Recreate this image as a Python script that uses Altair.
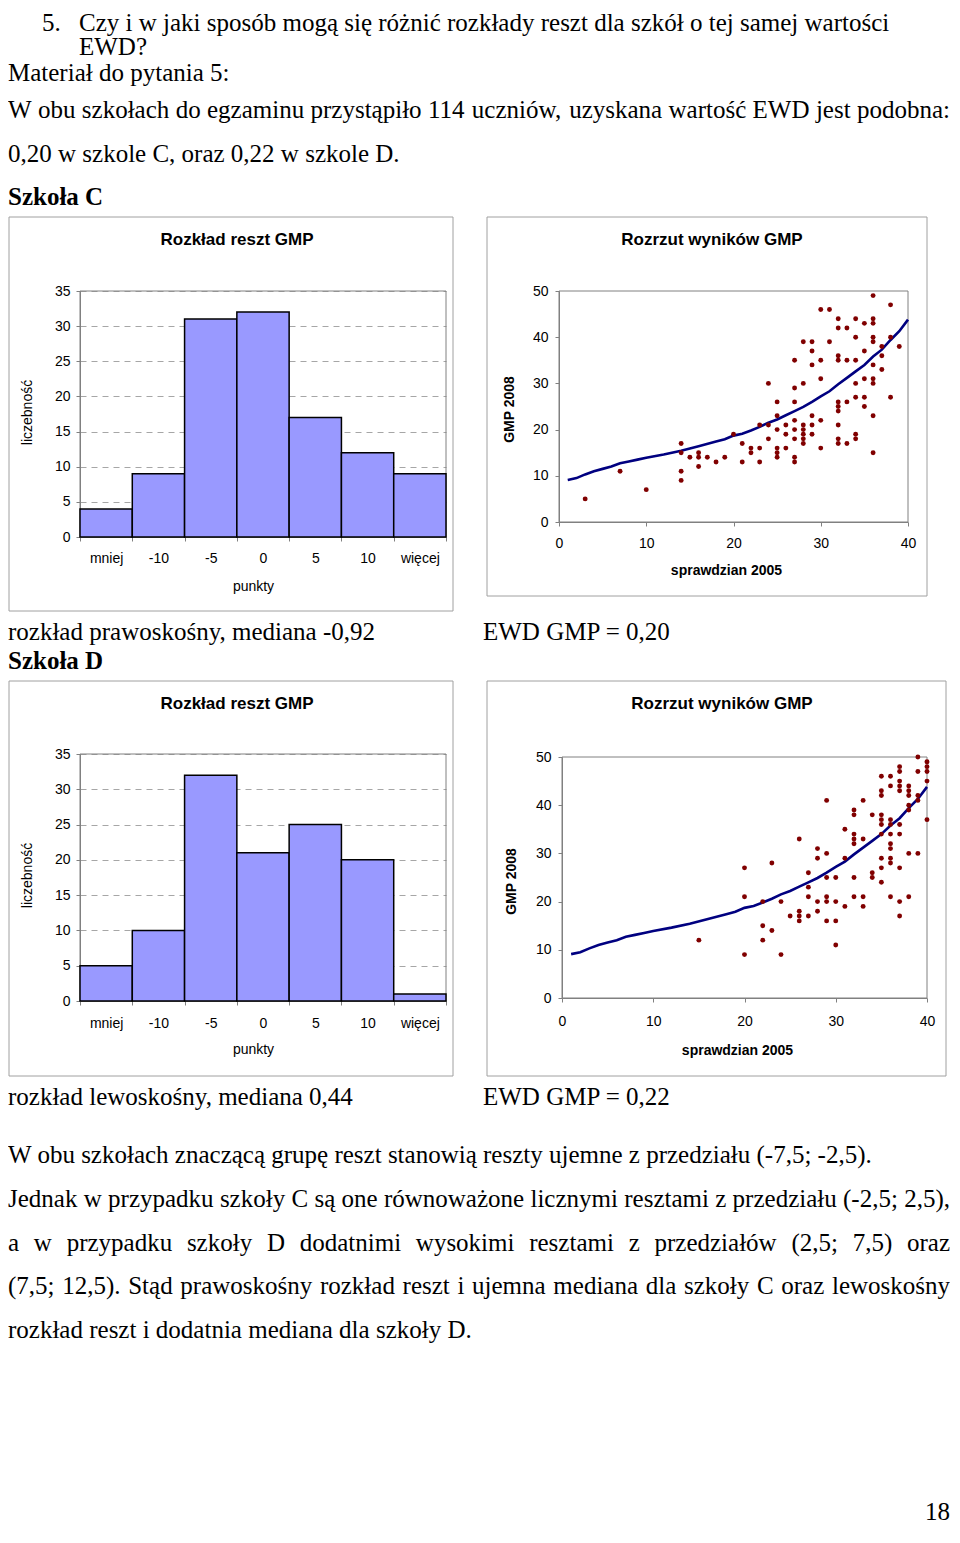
import altair as alt
import pandas as pd

# ============================ DATA ============================
hist_categories = ["mniej", "-10", "-5", "0", "5", "10", "więcej"]
counts_school_C = [4, 9, 31, 32, 17, 12, 9]
counts_school_D = [5, 10, 32, 21, 25, 20, 1]
hist_y_ticks = [0, 5, 10, 15, 20, 25, 30, 35]

sprawdzian_C = [3, 7, 10, 14, 14, 14, 14, 15, 16, 16, 16, 17, 18, 19, 20, 21, 21, 22, 22,
                23, 23, 23, 24, 24, 24, 25, 25, 25, 25, 25, 25, 26, 26, 26,
                27, 27, 27, 27, 27, 27, 27, 27, 28, 28, 28, 28, 28, 28, 28,
                29, 29, 29, 29, 29, 29, 30, 30, 30, 30, 30, 31, 31,
                32, 32, 32, 32, 32, 32, 32, 32, 32, 32, 33, 33, 33, 33,
                34, 34, 34, 34, 34, 34, 34, 35, 35, 35, 35, 35,
                36, 36, 36, 36, 36, 36, 36, 36, 36, 36, 37, 37, 37, 38, 38, 38, 39]
gmp_C = [5, 11, 7, 17, 15, 11, 9, 14, 15, 14, 12, 14, 13, 14, 19, 17, 13, 16, 15,
         21, 16, 13, 30, 21, 18, 26, 23, 20, 16, 15, 14, 21, 19, 16,
         35, 29, 26, 22, 20, 18, 14, 13, 39, 30, 21, 20, 19, 18, 17,
         39, 37, 34, 23, 21, 19, 46, 35, 31, 22, 16, 46, 39,
         44, 42, 36, 35, 26, 25, 24, 21, 18, 17, 42, 35, 26, 17,
         44, 40, 35, 30, 27, 19, 18, 43, 37, 31, 27, 25,
         49, 44, 43, 40, 39, 34, 31, 30, 23, 15, 38, 36, 33, 47, 40, 27, 38]

sprawdzian_D = [15, 20, 20, 20, 22, 22, 22, 23, 23, 24, 24, 25,
                26, 26, 26, 26, 27, 27, 27, 27, 28, 28, 28, 28,
                29, 29, 29, 29, 29, 29, 30, 30, 30, 30, 31, 31, 31,
                32, 32, 32, 32, 32, 32, 32, 33, 33, 33, 33, 34, 34, 34,
                35, 35, 35, 35, 35, 35, 35, 35, 35, 35,
                36, 36, 36, 36, 36, 36, 36, 36, 36, 36,
                37, 37, 37, 37, 37, 37, 37, 37, 37, 37,
                38, 38, 38, 38, 38, 38, 38, 39, 39, 39, 39, 39, 40, 40, 40, 40, 40]
gmp_D = [12, 27, 21, 9, 20, 15, 12, 28, 14, 20, 9, 17,
         33, 18, 17, 16, 26, 23, 21, 17, 31, 29, 20, 18,
         41, 30, 25, 21, 20, 16, 25, 20, 16, 11, 35, 29, 19,
         39, 38, 34, 33, 32, 25, 21, 41, 33, 21, 19, 38, 26, 25,
         46, 43, 42, 38, 37, 36, 34, 29, 27, 24,
         46, 44, 37, 36, 34, 32, 31, 29, 28, 21,
         48, 47, 45, 44, 43, 36, 34, 27, 20, 17,
         44, 43, 42, 40, 39, 30, 21, 50, 47, 42, 41, 30, 49, 48, 47, 45, 37]

curve_sprawdzian = [1, 2, 3, 4, 5, 6, 7, 8, 9, 10, 12, 14, 16, 18, 19, 20, 21, 22, 23, 24,
                    25, 26, 27, 28, 29, 30, 31, 32, 33, 34, 35, 36, 37, 38, 39, 40]
curve_gmp = [9.1, 9.5, 10.3, 11.0, 11.5, 12.0, 12.7, 13.1, 13.5, 13.9, 14.6, 15.4, 16.4, 17.4,
             17.9, 18.7, 19.1, 19.8, 20.6, 21.5, 22.2, 23.1, 24.0, 24.9, 26.0, 27.2, 28.3,
             29.8, 31.2, 32.6, 34.0, 35.8, 37.3, 39.4, 41.3, 43.8]
scatter_x_ticks = [0, 10, 20, 30, 40]
scatter_y_ticks = [0, 10, 20, 30, 40, 50]

question_number = "5."
question_lines = ["Czy i w jaki sposób mogą się różnić rozkłady reszt dla szkół o tej samej wartości",
                  "EWD?"]
material_heading = "Materiał do pytania 5:"
intro_lines = ["W obu szkołach do egzaminu przystąpiło 114 uczniów, uzyskana wartość EWD jest podobna:",
               "0,20 w szkole C, oraz 0,22 w szkole D."]
school_names = ["Szkoła C", "Szkoła D"]
distribution_notes = ["rozkład prawoskośny, mediana -0,92", "rozkład lewoskośny, mediana 0,44"]
ewd_notes = ["EWD GMP = 0,20", "EWD GMP = 0,22"]
conclusion_lines = [
    "W obu szkołach znaczącą grupę reszt stanowią reszty ujemne z przedziału (-7,5; -2,5).",
    "Jednak w przypadku szkoły C są one równoważone licznymi resztami z przedziału (-2,5; 2,5),",
    "a w przypadku szkoły D dodatnimi wysokimi resztami z przedziałów (2,5; 7,5) oraz",
    "(7,5; 12,5). Stąd prawoskośny rozkład reszt i ujemna mediana dla szkoły C oraz lewoskośny",
    "rozkład reszt i dodatnia mediana dla szkoły D.",
]
page_number = "18"
hist_title = "Rozkład reszt GMP"
scatter_title = "Rozrzut wyników GMP"
hist_x_title = "punkty"
hist_y_title = "liczebność"
scatter_x_title = "sprawdzian 2005"
scatter_y_title = "GMP 2008"

assert len(sprawdzian_C) == len(gmp_C)
assert len(sprawdzian_D) == len(gmp_D)

# ============================ LAYOUT ============================
SERIF, SANS = "Liberation Serif", "Liberation Sans"
BODY = 25
TEXT_L, TEXT_R = 8, 950
GRAY_AXIS = "#808080"
GRAY_BOX = "#a0a0a0"

# Times-compatible advance widths (per 1000 em) for justifying lines
TIMES = {' ': 250, ',': 250, '.': 250, ';': 278, ':': 278, '(': 333, ')': 333, '-': 333,
         '=': 564, '?': 444,
         'A': 722, 'B': 667, 'C': 667, 'D': 722, 'E': 611, 'F': 556, 'G': 722, 'H': 722,
         'I': 333, 'J': 389, 'K': 722, 'L': 611, 'M': 889, 'N': 722, 'O': 722, 'P': 556,
         'R': 667, 'S': 556, 'T': 611, 'U': 722, 'W': 944, 'Z': 611,
         'a': 444, 'b': 500, 'c': 444, 'd': 500, 'e': 444, 'f': 333, 'g': 500, 'h': 500,
         'i': 278, 'j': 278, 'k': 500, 'l': 278, 'm': 778, 'n': 500, 'o': 500, 'p': 500,
         'q': 500, 'r': 333, 's': 389, 't': 278, 'u': 500, 'v': 500, 'w': 722, 'x': 500,
         'y': 500, 'z': 444, 'ą': 444, 'ę': 444, 'ł': 278, 'ś': 389, 'ć': 444, 'ń': 500,
         'ó': 500, 'ż': 444, 'ź': 444}


def tw(s, size=BODY):
    return sum(TIMES.get(ch, 500) for ch in s) * size / 1000.0


ONE = pd.DataFrame({"k": [0]})

# plot areas (page px): cell origin, cell size, plot range inside the cell
HC = dict(ox=80, oy=291, w=366, h=246)
SC = dict(ox=559, oy=291, w=349, h=231)
HD = dict(ox=80, oy=754, w=366, h=247)
SD = dict(ox=559, oy=754, w=368, h=244, x0=3, y0=3)

MAXW = max(HC["w"], SC["w"], HD["w"], SD["w"])
MAXH = max(HC["h"], SC["h"], HD["h"], SD["h"])
COL_SP = (SC["ox"] - HC["ox"]) - MAXW
ROW_SP = (HD["oy"] - HC["oy"]) - MAXH


def T(s, px, py, cell, size=BODY, font=SERIF, weight="normal", align="left", baseline="middle"):
    return alt.Chart(ONE).mark_text(
        text=s, font=font, fontSize=size, fontWeight=weight, align=align,
        baseline=baseline, color="black"
    ).encode(x=alt.value(px - cell["ox"]), y=alt.value(py - cell["oy"]))


def justified(line, py, cell):
    words = line.split()
    widths = [tw(w) for w in words]
    gap = (TEXT_R - TEXT_L - sum(widths)) / (len(words) - 1)
    out, x = [], TEXT_L
    for i, (w, wd) in enumerate(zip(words, widths)):
        if i == len(words) - 1:
            out.append(T(w, TEXT_R, py, cell, align="right"))
        else:
            out.append(T(w, x, py, cell))
        x += wd + gap
    return out


def R(x1, y1, x2, y2, cell, color, width=1.0, opacity=1.0):
    return alt.Chart(ONE).mark_rect(fillOpacity=0, stroke=color, strokeWidth=width,
                                    strokeOpacity=opacity).encode(
        x=alt.value(x1 - cell["ox"]), x2=alt.value(x2 - cell["ox"]),
        y=alt.value(y1 - cell["oy"]), y2=alt.value(y2 - cell["oy"]))


def hist_panel(counts, cell, box, title_c, ytitle_c, xtitle_c, xpad):
    df = pd.DataFrame({"przedzial": hist_categories, "liczebnosc": counts})
    x_enc = alt.X("przedzial:N", sort=hist_categories,
                  scale=alt.Scale(paddingInner=0, paddingOuter=0),
                  axis=alt.Axis(title=hist_x_title, labelAngle=0, tickBand="extent",
                                labelPadding=xpad, titleFontWeight="normal",
                                titleX=xtitle_c[0] - cell["ox"],
                                titleY=xtitle_c[1] - (cell["oy"] + cell["h"]),
                                titleAlign="center", titleBaseline="middle"))
    y_enc = alt.Y("liczebnosc:Q", scale=alt.Scale(domain=[0, 35], nice=False),
                  axis=alt.Axis(values=hist_y_ticks, grid=True, gridDash=[6, 5],
                                gridColor="#a6a6a6", labelPadding=6, labelFlush=False,
                                title=hist_y_title, titleFontWeight="normal",
                                titleX=ytitle_c[0] - cell["ox"], titleY=ytitle_c[1] - cell["oy"],
                                titleAlign="center", titleBaseline="middle"))
    frame = R(cell["ox"], cell["oy"], cell["ox"] + cell["w"], cell["oy"] + cell["h"], cell, GRAY_AXIS)
    bars = alt.Chart(df).mark_bar(fill="#9999ff", stroke="black", strokeWidth=1.5, opacity=1).encode(
        x=x_enc, y=y_enc)
    outer = R(*box, cell, GRAY_BOX)
    title = T(hist_title, title_c[0], title_c[1], cell, size=17, font=SANS, weight="bold", align="center")
    return [frame, bars, outer, title]


def scatter_panel(xs, ys, cell, box, title_c, ytitle_c, xtitle_c, xpad):
    x0 = cell.get("x0", 0)
    y0 = cell.get("y0", 0)
    df = pd.DataFrame({"s2005": xs, "g2008": ys})
    cdf = pd.DataFrame({"s2005": curve_sprawdzian, "g2008": curve_gmp})
    x_enc = alt.X("s2005:Q", scale=alt.Scale(domain=[0, 40], nice=False, range=[x0, cell["w"]]),
                  axis=alt.Axis(values=scatter_x_ticks, grid=False, labelFlush=False,
                                labelPadding=xpad, title=scatter_x_title, titleFontWeight="bold",
                                titleX=xtitle_c[0] - cell["ox"],
                                titleY=xtitle_c[1] - (cell["oy"] + cell["h"]),
                                titleAlign="center", titleBaseline="middle"))
    y_axis_kw = dict(values=scatter_y_ticks, grid=False, labelFlush=False, labelPadding=7,
                     title=scatter_y_title, titleFontWeight="bold",
                     titleX=ytitle_c[0] - (cell["ox"] + x0), titleY=ytitle_c[1] - cell["oy"],
                     titleAlign="center", titleBaseline="middle")
    if x0:
        y_axis_kw["offset"] = -x0
    y_enc = alt.Y("g2008:Q", scale=alt.Scale(domain=[0, 50], nice=False, range=[cell["h"], y0]),
                  axis=alt.Axis(**y_axis_kw))
    frame = R(cell["ox"] + x0, cell["oy"] + y0, cell["ox"] + cell["w"], cell["oy"] + cell["h"],
              cell, GRAY_AXIS)
    line = alt.Chart(cdf).mark_line(color="#000080", strokeWidth=2.6).encode(x=x_enc, y=y_enc)
    pts = alt.Chart(df).mark_circle(size=24, color="#800000", opacity=1).encode(x=x_enc, y=y_enc)
    outer = R(*box, cell, GRAY_BOX)
    title = T(scatter_title, title_c[0], title_c[1], cell, size=17, font=SANS, weight="bold", align="center")
    return [frame, line, pts, outer, title]


hc_layers = hist_panel(counts_school_C, HC, (9, 217, 453, 611), (237, 240), (27, 412), (253, 586), 10)
sc_layers = scatter_panel(sprawdzian_C, gmp_C, SC, (487, 217, 927, 596), (712, 240), (509, 409), (726, 570), 10)
hd_layers = hist_panel(counts_school_D, HD, (9, 681, 453, 1076), (237, 704), (27, 875), (253, 1049), 11)
sd_layers = scatter_panel(sprawdzian_D, gmp_D, SD, (487, 681, 946, 1076), (722, 704), (511, 881), (737, 1050), 12)

# invisible anchor fixing the page's top-left corner
anchor = R(8, 8, 9, 9, HC, "white", opacity=0)

# page text (attached to the first panel, drawn outside its plot area)
texts = [
    anchor,
    T(question_number, 42, 11, HC, baseline="top"),
    T(question_lines[0], 79, 11, HC, baseline="top"),
    T(question_lines[1], 79, 47, HC),
    T(material_heading, TEXT_L, 73, HC),
]
texts += justified(intro_lines[0], 110, HC)
texts += [
    T(intro_lines[1], TEXT_L, 154, HC),
    T(school_names[0], TEXT_L, 197, HC, weight="bold"),
    T(distribution_notes[0], TEXT_L, 632, HC),
    T(ewd_notes[0], 483, 632, HC),
    T(school_names[1], TEXT_L, 661, HC, weight="bold"),
    T(distribution_notes[1], TEXT_L, 1097, HC),
    T(ewd_notes[1], 483, 1097, HC),
    T(conclusion_lines[0], TEXT_L, 1155, HC),
]
texts += justified(conclusion_lines[1], 1199, HC)
texts += justified(conclusion_lines[2], 1243, HC)
texts += justified(conclusion_lines[3], 1286, HC)
texts += [
    T(conclusion_lines[4], TEXT_L, 1330, HC),
    T(page_number, TEXT_R, 1512, HC, align="right"),
]

hc = alt.layer(*hc_layers, *texts).properties(width=HC["w"], height=HC["h"])
sc = alt.layer(*sc_layers).properties(width=SC["w"], height=SC["h"])
hd = alt.layer(*hd_layers).properties(width=HD["w"], height=HD["h"])
sd = alt.layer(*sd_layers).properties(width=SD["w"], height=SD["h"])

chart = alt.concat(
    hc, sc, hd, sd, columns=2, bounds="flush", align="all",
    spacing={"row": ROW_SP, "column": COL_SP},
).properties(padding=0).configure_view(strokeWidth=0).configure_axis(
    labelFont=SANS, labelFontSize=14, labelColor="black",
    titleFont=SANS, titleFontSize=14, titleColor="black",
    domainColor=GRAY_AXIS, tickColor=GRAY_AXIS, tickSize=4, domainWidth=1, tickWidth=1,
)

chart.save("out.html", embed_options={"renderer": "svg", "actions": False})
